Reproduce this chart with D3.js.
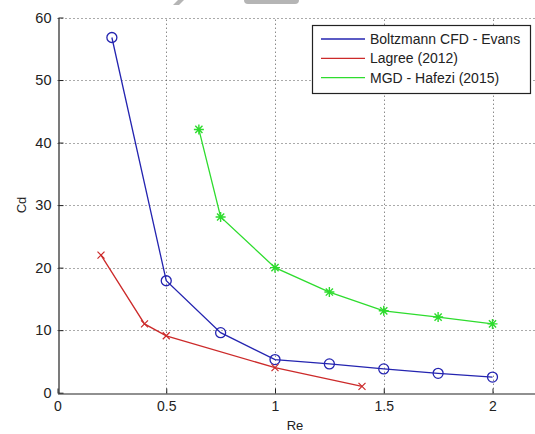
<!DOCTYPE html>
<html>
<head>
<meta charset="utf-8">
<script src="https://cdn.jsdelivr.net/npm/d3@7"></script>
<style>
  html, body { margin: 0; padding: 0; background: #fff; }
  svg { display: block; }
  text { font-family: "Liberation Sans", Arial, sans-serif; fill: #222; }
</style>
</head>
<body>
<svg id="chart" width="535" height="434"></svg>
<script>
// Drag coefficient versus Reynolds number, three sources
const boltzmannRe = [0.25, 0.5, 0.75, 1, 1.25, 1.5, 1.75, 2];
const boltzmannCd = [56.8, 17.9, 9.6, 5.3, 4.6, 3.8, 3.1, 2.5];

const lagreeRe = [0.2, 0.4, 0.5, 1, 1.4];
const lagreeCd = [22, 11, 9.1, 4, 1];

const hafeziRe = [0.65, 0.75, 1, 1.25, 1.5, 1.75, 2];
const hafeziCd = [42.1, 28.1, 20, 16.1, 13.1, 12.1, 11];

const xTicks = [0, 0.5, 1, 1.5, 2];
const xTickLabels = ["0", "0.5", "1", "1.5", "2"];
const yTicks = [0, 10, 20, 30, 40, 50, 60];

const seriesNames = ["Boltzmann CFD - Evans", "Lagree (2012)", "MGD - Hafezi (2015)"];

const svg = d3.select("#chart");

const x = d3.scaleLinear().domain([0, 2.2]).range([57.5, 536]);
const y = d3.scaleLinear().domain([0, 60]).range([392.7, 17.5]);

// Small grey fragments along the top edge
svg.append("path").attr("d", "M178,0 L184,0 L179,5 L173,5 Z").attr("fill", "#b5b5b5");
svg.append("rect").attr("x", 244).attr("y", -4).attr("width", 55).attr("height", 8)
  .attr("rx", 4).attr("fill", "#b5b5b5");

// Dotted grid
const grid = svg.append("g").attr("stroke", "#555").attr("stroke-width", 1)
  .attr("stroke-dasharray", "1,3");
xTicks.filter(d => d > 0).forEach(d => {
  grid.append("line").attr("x1", Math.round(x(d)) + 0.5).attr("x2", Math.round(x(d)) + 0.5)
    .attr("y1", y(0)).attr("y2", y(60));
});
yTicks.filter(d => d > 0).forEach(d => {
  grid.append("line").attr("x1", x(0)).attr("x2", 535)
    .attr("y1", Math.round(y(d)) + 0.5).attr("y2", Math.round(y(d)) + 0.5);
});

// Axes with inward ticks
const xAxis = d3.axisBottom(x).tickValues(xTicks).tickFormat((d, i) => xTickLabels[i])
  .tickSizeInner(-5).tickSizeOuter(0).tickPadding(8);
const gx = svg.append("g").attr("transform", `translate(0,${Math.round(y(0)) + 0.5})`).call(xAxis);
gx.select(".domain").attr("stroke", "#222").attr("stroke-width", 1.2);
gx.selectAll(".tick line").attr("stroke", "#222");
gx.selectAll(".tick text").attr("font-size", 14).attr("fill", "#333")
  .attr("font-family", "Liberation Sans, Arial, sans-serif");

const yAxis = d3.axisLeft(y).tickValues(yTicks).tickFormat(d3.format("d"))
  .tickSizeInner(-5).tickSizeOuter(0).tickPadding(7);
const gy = svg.append("g").attr("transform", `translate(${Math.round(x(0)) + 0.5},0)`).call(yAxis);
gy.select(".domain").attr("stroke", "#222").attr("stroke-width", 1.2);
gy.selectAll(".tick line").attr("stroke", "#222");
gy.selectAll(".tick text").attr("font-size", 14.5).attr("fill", "#333")
  .attr("font-family", "Liberation Sans, Arial, sans-serif");

// Axis titles
svg.append("text").attr("x", 295).attr("y", 430).attr("text-anchor", "middle")
  .attr("font-size", 13).text("Re");
svg.append("text").attr("transform", "translate(26,205) rotate(-90)")
  .attr("text-anchor", "middle").attr("font-size", 13).text("Cd");

const line = d3.line().x(d => x(d[0])).y(d => y(d[1]));

const colors = ["#2424b0", "#cc2a2a", "#2edc2e"];
const series = [
  d3.zip(boltzmannRe, boltzmannCd),
  d3.zip(lagreeRe, lagreeCd),
  d3.zip(hafeziRe, hafeziCd)
];

series.forEach((pts, i) => {
  svg.append("path").datum(pts).attr("d", line).attr("fill", "none")
    .attr("stroke", colors[i]).attr("stroke-width", 1.3);
});

// Circle markers
svg.append("g").selectAll("circle").data(series[0]).join("circle")
  .attr("cx", d => x(d[0])).attr("cy", d => y(d[1])).attr("r", 5)
  .attr("fill", "none").attr("stroke", colors[0]).attr("stroke-width", 1.3);

// Cross markers
const s = 3.5;
svg.append("g").selectAll("path").data(series[1]).join("path")
  .attr("d", d => {
    const cx = x(d[0]), cy = y(d[1]);
    return `M${cx - s},${cy - s}L${cx + s},${cy + s}M${cx - s},${cy + s}L${cx + s},${cy - s}`;
  })
  .attr("stroke", colors[1]).attr("stroke-width", 1.2).attr("fill", "none");

// Star markers
const r = 5;
svg.append("g").selectAll("path").data(series[2]).join("path")
  .attr("d", d => {
    const cx = x(d[0]), cy = y(d[1]);
    const a = r * 0.72;
    return `M${cx - r},${cy}L${cx + r},${cy}M${cx},${cy - r}L${cx},${cy + r}` +
      `M${cx - a},${cy - a}L${cx + a},${cy + a}M${cx - a},${cy + a}L${cx + a},${cy - a}`;
  })
  .attr("stroke", colors[2]).attr("stroke-width", 1.4).attr("fill", "none");

// Legend
const legend = svg.append("g");
legend.append("rect").attr("x", 312.5).attr("y", 25.5).attr("width", 218).attr("height", 68)
  .attr("fill", "#fff").attr("stroke", "#222").attr("stroke-width", 1.2);
seriesNames.forEach((name, i) => {
  const ly = 39 + i * 19.3;
  legend.append("line").attr("x1", 321).attr("x2", 365).attr("y1", ly).attr("y2", ly)
    .attr("stroke", colors[i]).attr("stroke-width", 1.3);
  legend.append("text").attr("x", 370).attr("y", ly + 5).attr("font-size", 14).text(name);
});
</script>
</body>
</html>
